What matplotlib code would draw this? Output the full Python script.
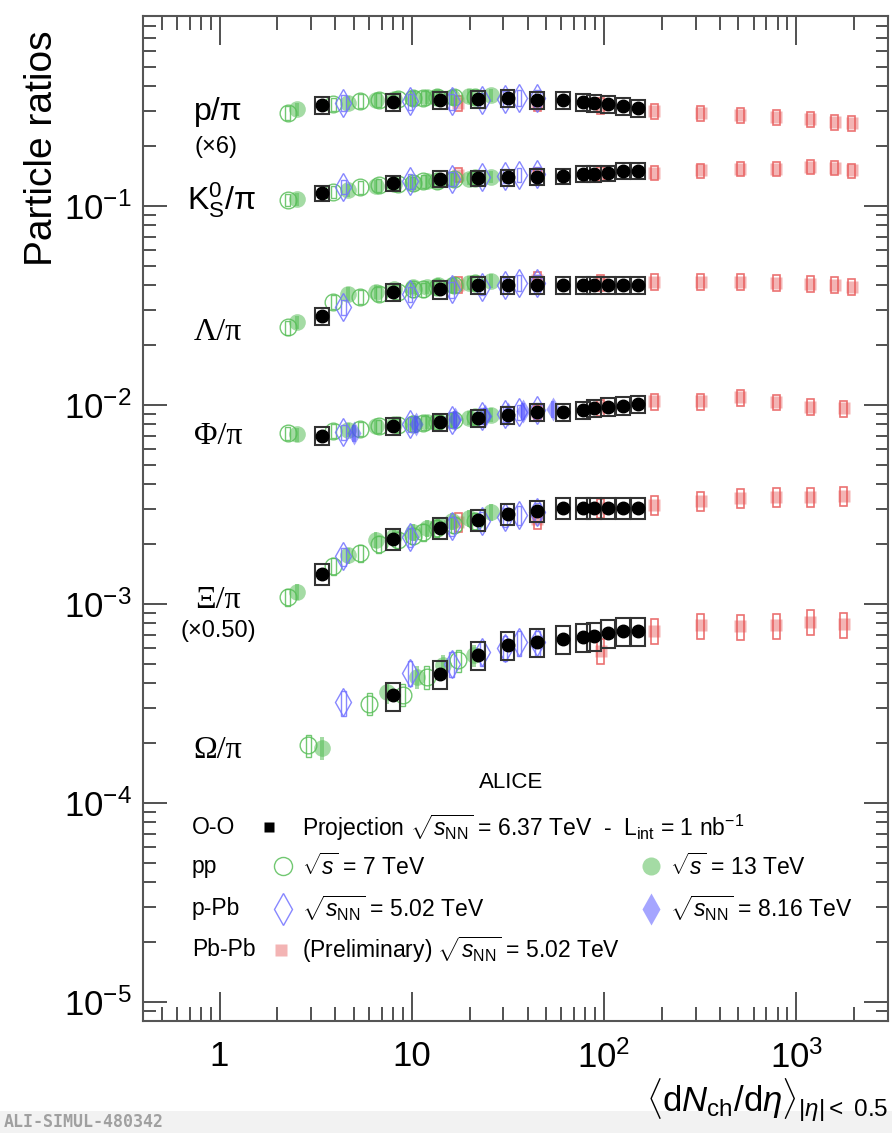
import numpy as np
import matplotlib.pyplot as plt
from matplotlib.patches import Rectangle
from matplotlib.ticker import FixedLocator, FuncFormatter, NullFormatter

plt.rcParams['font.family'] = ['Liberation Sans', 'DejaVu Sans']
plt.rcParams['mathtext.fontset'] = 'custom'
plt.rcParams['mathtext.rm'] = 'Liberation Sans'
plt.rcParams['mathtext.it'] = 'Liberation Sans:italic'
plt.rcParams['mathtext.bf'] = 'Liberation Sans:bold'

# --- data: <dNch/deta> and particle ratios (unscaled) ---
oo_x = [3.4, 8.0, 14.0, 22.0, 31.5, 45, 61, 78, 89, 105, 126, 150]
oo_p = [0.0535, 0.0553, 0.0567, 0.0573, 0.0580, 0.0567, 0.0567, 0.0553, 0.0547, 0.0540, 0.0528, 0.0517]
oo_k0s = [0.116, 0.130, 0.137, 0.138, 0.139, 0.140, 0.141, 0.145, 0.145, 0.146, 0.150, 0.150]
oo_lam = [0.028, 0.037, 0.038, 0.040, 0.040, 0.040, 0.040, 0.040, 0.040, 0.040, 0.040, 0.040]
oo_phi = [0.0070, 0.0078, 0.0082, 0.0086, 0.0089, 0.0092, 0.0092, 0.0094, 0.0096, 0.0098, 0.0099, 0.0101]
oo_xi = [0.00282, 0.00424, 0.0048, 0.00528, 0.00566, 0.00586, 0.00606, 0.00606, 0.00606, 0.00606, 0.00606, 0.00606]
oo_om_x = [8.0, 14.0, 22.0, 31.5, 45, 61, 78, 89, 105, 126, 150]
oo_om = [0.000346, 0.000446, 0.000555, 0.000623, 0.000645, 0.000668, 0.000684, 0.000692, 0.000716, 0.000733, 0.000733]

pp7_x = [2.26, 3.90, 5.40, 6.72, 8.45, 10.1, 11.5, 13.5, 16.5, 21.3]
pp7_p = [0.049, 0.054, 0.056, 0.057, 0.0575, 0.058, 0.058, 0.0587, 0.059, 0.059]
pp7_k0s = [0.107, 0.118, 0.124, 0.127, 0.129, 0.131, 0.133, 0.134, 0.136, 0.138]
pp7_lam = [0.0245, 0.033, 0.035, 0.036, 0.037, 0.038, 0.038, 0.039, 0.040, 0.041]
pp7_phi = [0.0072, 0.0074, 0.0076, 0.0078, 0.0079, 0.0080, 0.0081, 0.0082, 0.0084, 0.0087]
pp7_xi = [0.00216, 0.0031, 0.0036, 0.0040, 0.0042, 0.0044, 0.0046, 0.0048, 0.0050, 0.0052]
pp7_om_x = [2.9, 6.0, 9.0, 12.0, 17.5]
pp7_om = [0.000194, 0.000315, 0.00035, 0.00043, 0.00052]

pp13_x = [2.52, 4.64, 6.48, 8.07, 10.11, 12.06, 13.76, 16.12, 19.83, 25.75]
pp13_p = [0.051, 0.055, 0.057, 0.0575, 0.058, 0.059, 0.059, 0.059, 0.0595, 0.060]
pp13_k0s = [0.108, 0.120, 0.126, 0.129, 0.131, 0.133, 0.134, 0.136, 0.137, 0.140]
pp13_lam = [0.026, 0.036, 0.037, 0.038, 0.039, 0.039, 0.040, 0.040, 0.041, 0.042]
pp13_phi = [0.0071, 0.0075, 0.0078, 0.0080, 0.0081, 0.0082, 0.0083, 0.0084, 0.0086, 0.0089]
pp13_xi = [0.0023, 0.0035, 0.0042, 0.0044, 0.0046, 0.0048, 0.0050, 0.0052, 0.0054, 0.0058]
pp13_om_x = [3.4, 7.4, 10.6, 14.5, 21.0]
pp13_om = [0.000189, 0.00036, 0.00043, 0.00049, 0.00055]

ppb5_x = [4.4, 9.8, 16.1, 23.2, 30.5, 36.2, 45.0]
ppb5_p = [0.055, 0.0558, 0.0558, 0.0567, 0.0575, 0.0583, 0.0583]
ppb5_k0s = [0.125, 0.133, 0.137, 0.139, 0.141, 0.143, 0.145]
ppb5_lam = [0.031, 0.036, 0.038, 0.039, 0.040, 0.041, 0.041]
ppb5_phi = [0.0073, 0.0080, 0.0084, 0.0088, 0.0090, 0.0092, 0.0094]
ppb5_xi = [0.00346, 0.00432, 0.0049, 0.0052, 0.00546, 0.0056, 0.0058]
ppb5_om = [0.00032, 0.00045, 0.00050, 0.00057, 0.00060, 0.00064, 0.00064]

ppb8_x = [5.0, 10.5, 16.8, 24.0, 31.5, 38.0, 54.0]
ppb8_phi = [0.0072, 0.0080, 0.0085, 0.0088, 0.0090, 0.0093, 0.0095]

pbpb_x = [17.5, 44.9, 96.3, 183, 318, 512, 786, 1180, 1587, 1943]
pbpb_p = [0.0547, 0.0547, 0.0533, 0.0498, 0.0487, 0.0477, 0.0465, 0.0455, 0.0440, 0.0435]
pbpb_k0s = [0.143, 0.143, 0.145, 0.146, 0.151, 0.153, 0.153, 0.157, 0.155, 0.151]
pbpb_lam = [0.0402, 0.0426, 0.0411, 0.0416, 0.0416, 0.0416, 0.0411, 0.0407, 0.0402, 0.0393]
pbpb_x2 = [17.5, 44.9, 96.3, 183, 318, 512, 786, 1180, 1764]
pbpb_phi = [0.0092, 0.0097, 0.0104, 0.0104, 0.0109, 0.0103, 0.0098, 0.0096]
pbpb_xi = [0.00516, 0.00534, 0.00606, 0.00626, 0.00656, 0.0068, 0.00688, 0.00688, 0.00696]
pbpb_om = [0.00058, 0.00073, 0.00078, 0.00077, 0.00078, 0.00081, 0.00079]

scale = {'p': 6, 'k0s': 1, 'lam': 1, 'phi': 1, 'xi': 0.5, 'om': 1}
relsys = {'p': 0.10, 'k0s': 0.09, 'lam': 0.10, 'phi': 0.10, 'xi': 0.12, 'om': 0.16}

GREEN_E = (0.35, 0.75, 0.35, 0.85)
GREEN_F = (0.35, 0.75, 0.35, 0.55)
BLUE_E = (0.45, 0.45, 1.0, 0.85)
BLUE_F = (0.3, 0.3, 1.0, 0.5)
RED_E = (0.9, 0.3, 0.3, 0.8)
RED_F = (0.9, 0.35, 0.35, 0.45)

fig = plt.figure(figsize=(8.92, 11.33), dpi=100)
ax = fig.add_axes([143 / 892, 1 - 1021 / 1133, (888 - 143) / 892, (1021 - 16) / 1133])
ax.set_xscale('log')
ax.set_yscale('log')


def sysbox(x, y, hw, rel, ec, fc='none', lw=1.2, z=2):
    for xi, yi in zip(x, y):
        x0, x1 = xi / 10 ** hw, xi * 10 ** hw
        ax.add_patch(Rectangle((x0, yi * (1 - rel)), x1 - x0, 2 * rel * yi,
                               facecolor=fc, edgecolor=ec, lw=lw, zorder=z))


def sc(y, s):
    return np.array(y) * scale[s]


# Pb-Pb
pbpb = {'p': (pbpb_x, pbpb_p), 'k0s': (pbpb_x, pbpb_k0s), 'lam': (pbpb_x, pbpb_lam),
        'phi': (pbpb_x2[1:], pbpb_phi), 'xi': (pbpb_x2, pbpb_xi), 'om': (pbpb_x2[2:], pbpb_om)}
for s, (x, y) in pbpb.items():
    yy = sc(y, s)
    sysbox(x, yy, 0.018, relsys[s] * 0.9, RED_E, lw=1.2, z=2)
    ax.plot(x, yy, 's', ms=9, color=RED_F, mec='none', zorder=2)

# pp 7 TeV
pp7 = {'p': (pp7_x, pp7_p), 'k0s': (pp7_x, pp7_k0s), 'lam': (pp7_x, pp7_lam),
       'phi': (pp7_x, pp7_phi), 'xi': (pp7_x, pp7_xi), 'om': (pp7_om_x, pp7_om)}
for s, (x, y) in pp7.items():
    yy = sc(y, s)
    sysbox(x, yy, 0.013, relsys[s] * 0.8, GREEN_E, lw=1.0, z=3)
    ax.plot(x, yy, 'o', ms=12, mfc='none', mec=GREEN_E, mew=1.0, zorder=3)

# pp 13 TeV
pp13 = {'p': (pp13_x, pp13_p), 'k0s': (pp13_x, pp13_k0s), 'lam': (pp13_x, pp13_lam),
        'phi': (pp13_x, pp13_phi), 'xi': (pp13_x, pp13_xi), 'om': (pp13_om_x, pp13_om)}
for s, (x, y) in pp13.items():
    yy = sc(y, s)
    sysbox(x, yy, 0.010, relsys[s] * 0.8, 'none', fc=GREEN_F, z=3)
    ax.plot(x, yy, 'o', ms=12, color=GREEN_F, mec='none', zorder=3)

# p-Pb 5.02 TeV
ppb5 = {'p': ppb5_p, 'k0s': ppb5_k0s, 'lam': ppb5_lam, 'phi': ppb5_phi, 'xi': ppb5_xi, 'om': ppb5_om}
for s, y in ppb5.items():
    yy = sc(y, s)
    sysbox(ppb5_x, yy, 0.012, relsys[s] * 0.9, BLUE_E, lw=1.0, z=4)
    ax.plot(ppb5_x, yy, 'd', ms=14, mfc='none', mec=BLUE_E, mew=1.0, zorder=4)

# p-Pb 8.16 TeV
sysbox(ppb8_x, ppb8_phi, 0.010, 0.10, 'none', fc=BLUE_F, z=4)
ax.plot(ppb8_x, ppb8_phi, 'd', ms=12, color=BLUE_F, mec='none', zorder=4)

# O-O projection
oo = {'p': (oo_x, oo_p), 'k0s': (oo_x, oo_k0s), 'lam': (oo_x, oo_lam),
      'phi': (oo_x, oo_phi), 'xi': (oo_x, oo_xi), 'om': (oo_om_x, oo_om)}
for s, (x, y) in oo.items():
    yy = sc(y, s)
    sysbox(x, yy, 0.036, relsys[s], '#333333', lw=1.5, z=5)
    ax.plot(x, yy, 'o', ms=9, color='black', zorder=6)

ax.set_xlim(0.4, 3000)
ax.set_ylim(8e-6, 0.9)

ax.xaxis.set_major_locator(FixedLocator([1, 10, 100, 1000]))
xlab = {1: '1', 10: '10', 100: '$10^2$', 1000: '$10^3$'}
ax.xaxis.set_major_formatter(FuncFormatter(lambda v, p: xlab.get(int(round(v)), '')))
ax.xaxis.set_minor_locator(FixedLocator([m * 10.0 ** e for e in range(-1, 4) for m in range(2, 10)]))
ax.xaxis.set_minor_formatter(NullFormatter())
ax.yaxis.set_major_locator(FixedLocator([1e-5, 1e-4, 1e-3, 1e-2, 1e-1]))
ax.yaxis.set_major_formatter(FuncFormatter(lambda v, p: r'$10^{%d}$' % int(round(np.log10(v)))))
ax.yaxis.set_minor_locator(FixedLocator([m * 10.0 ** e for e in range(-6, 0) for m in range(2, 10)]))
ax.yaxis.set_minor_formatter(NullFormatter())

ax.tick_params(which='both', direction='in', top=True, right=True, color='#333333', width=1.2)
ax.tick_params(axis='x', which='major', length=21, pad=14, labelsize=25)
ax.tick_params(axis='x', which='minor', length=10)
ax.tick_params(axis='y', which='major', length=17, pad=8, labelsize=25)
ax.tick_params(axis='y', which='minor', length=9)
for sp in ax.spines.values():
    sp.set_color('#555555')
    sp.set_linewidth(1.5)


def px(x, y):
    return x / 892, 1 - y / 1133


# species labels
fig.text(*px(218, 112), 'p/π', fontsize=23, ha='center', va='center')
fig.text(*px(216, 147), '(×6)', fontsize=17, ha='center', va='center')
fig.text(*px(221, 200), r'K$_{\rm S}^{0}$/π', fontsize=23, ha='center', va='center')
fig.text(*px(218, 333), 'Λ/π', fontsize=23, ha='center', va='center', family='Liberation Serif')
fig.text(*px(218, 437), 'Φ/π', fontsize=23, ha='center', va='center', family='Liberation Serif')
fig.text(*px(218, 601), 'Ξ/π', fontsize=23, ha='center', va='center', family='Liberation Serif')
fig.text(*px(218, 631), '(×0.50)', fontsize=17, ha='center', va='center')
fig.text(*px(218, 751), 'Ω/π', fontsize=23, ha='center', va='center', family='Liberation Serif')

# axis titles
fig.text(*px(42, 148), 'Particle ratios', fontsize=28, rotation=90, ha='center', va='center')
fig.text(*px(888, 1100), r'$\langle$d$N_{\rm ch}$/d$\eta\rangle_{|\eta|<\ 0.5}$', fontsize=25,
         ha='right', va='center')

# legend
fs = 16.5
fig.text(*px(511, 783), 'ALICE', fontsize=16, ha='center', va='center')
rows = [('O-O', 828), ('pp', 867), ('p-Pb', 908), ('Pb-Pb', 950)]
for name, yy in rows:
    fig.text(*px(192, yy), name, fontsize=fs, ha='left', va='center')
fig.text(*px(302, 828), r'Projection $\sqrt{s_{\rm NN}}$ = 6.37 TeV  -  L$_{\rm int}$ = 1 nb$^{-1}$',
         fontsize=fs, ha='left', va='center')
fig.text(*px(302, 867), r'$\sqrt{s}$ = 7 TeV', fontsize=fs, ha='left', va='center')
fig.text(*px(670, 867), r'$\sqrt{s}$ = 13 TeV', fontsize=fs, ha='left', va='center')
fig.text(*px(302, 908), r'$\sqrt{s_{\rm NN}}$ = 5.02 TeV', fontsize=fs, ha='left', va='center')
fig.text(*px(670, 908), r'$\sqrt{s_{\rm NN}}$ = 8.16 TeV', fontsize=fs, ha='left', va='center')
fig.text(*px(302, 950), r'(Preliminary) $\sqrt{s_{\rm NN}}$ = 5.02 TeV', fontsize=fs, ha='left', va='center')

lm = [((269, 827), dict(marker='s', ms=7, color='black', mec='none')),
      ((283, 866), dict(marker='o', ms=13, mfc='none', mec=GREEN_E, mew=1.0)),
      ((651, 866), dict(marker='o', ms=13, color=GREEN_F, mec='none')),
      ((283, 909), dict(marker='d', ms=16, mfc='none', mec=BLUE_E, mew=1.0)),
      ((651, 909), dict(marker='d', ms=16, color=BLUE_F, mec='none')),
      ((281, 950), dict(marker='s', ms=8, color=RED_F, mec='none'))]
for (xx, yy), kw in lm:
    fx, fy = px(xx, yy)
    fig.lines.append(plt.Line2D([fx], [fy], transform=fig.transFigure, **kw))

fig.patches.append(Rectangle((0, 0), 1, 22 / 1133, transform=fig.transFigure,
                             facecolor='#f2f2f2', edgecolor='none', zorder=-1))
fig.text(*px(4, 1122), 'ALI-SIMUL-480342', fontsize=12, fontweight='bold', color='#a0a0a0',
         family='DejaVu Sans Mono', ha='left', va='center')

fig.savefig('out.png', dpi=100)
